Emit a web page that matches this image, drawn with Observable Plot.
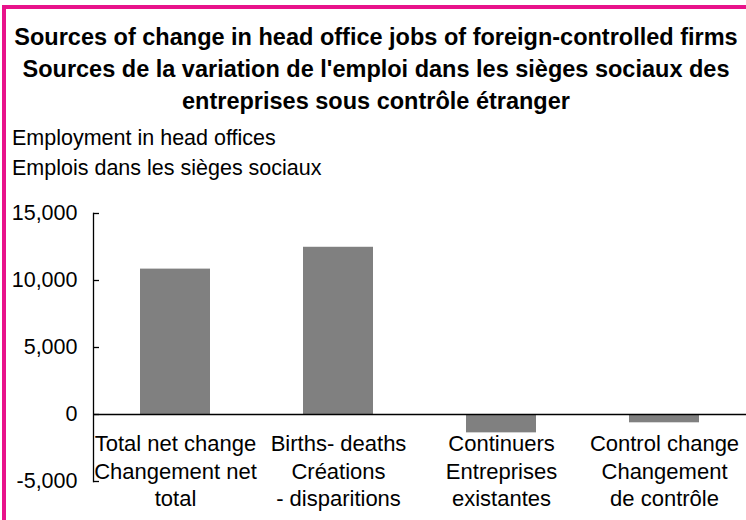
<!DOCTYPE html>
<html>
<head>
<meta charset="utf-8">
<script src="https://cdn.jsdelivr.net/npm/d3@7"></script>
<script src="https://cdn.jsdelivr.net/npm/@observablehq/plot@0.6"></script>
<style>
  html, body { margin: 0; padding: 0; background: #fff; }
  body { width: 746px; height: 520px; position: relative; overflow: hidden; font-family: "Liberation Sans", Arial, sans-serif; color: #000; }
  #border { position: absolute; left: 2px; top: 5px; right: -10px; bottom: -10px; border-left: 4px solid #e8128a; border-top: 4px solid #e8128a; z-index: 2; pointer-events: none; }
  #title { position: absolute; left: 6px; right: 0; top: 21px; text-align: center; font-weight: bold; font-size: 23.5px; line-height: 32px; white-space: nowrap; }
  #subtitle { position: absolute; left: 12px; top: 123px; font-size: 21.5px; line-height: 30px; white-space: nowrap; }
  #chart { position: absolute; left: 0; top: 185px; }
</style>
</head>
<body>
<div id="border"></div>
<div id="title">Sources of change in head office jobs of foreign-controlled firms<br>Sources de la variation de l'emploi dans les sièges sociaux des<br>entreprises sous contrôle étranger</div>
<div id="subtitle">Employment in head offices<br>Emplois dans les sièges sociaux</div>
<div id="chart"></div>
<script>
const categories = ["Total net change", "Births- deaths", "Continuers", "Control change"];
const categoryLabels = [
  "Total net change\nChangement net\ntotal",
  "Births- deaths\nCréations\n- disparitions",
  "Continuers\nEntreprises\nexistantes",
  "Control change\nChangement\nde contrôle"
];
const values = [10850, 12480, -1370, -620];
const yTicks = [-5000, 0, 5000, 10000, 15000];

const data = categories.map((c, i) => ({category: c, label: categoryLabels[i], value: values[i]}));
const fmt = d3.formatLocale({decimal: ".", thousands: ",", grouping: [3], currency: ["$", ""], minus: "-"}).format(",");

const W = 746, ML = 93, TICK = 6;

const chart = Plot.plot({
  width: W,
  height: 335,
  marginLeft: ML,
  marginRight: 0,
  marginTop: 28,
  marginBottom: 39,
  style: {fontFamily: "'Liberation Sans', Arial, sans-serif", fontSize: "21px", background: "transparent", color: "#000", overflow: "visible"},
  x: {type: "band", domain: categories, paddingInner: 0.57, paddingOuter: 0.285, axis: null},
  y: {domain: [-5000, 15000], axis: null, label: null},
  marks: [
    Plot.barY(data, {x: "category", y: "value", fill: "#808080"}),
    Plot.axisY({ticks: yTicks, tickFormat: fmt, tickSize: 0, tickPadding: 16, fill: "#000", fontSize: 21.5, label: null}),
    Plot.ruleY(yTicks, {stroke: "#000", strokeWidth: 1.3, insetRight: W - ML - TICK}),
    Plot.frame({anchor: "left", stroke: "#000", strokeWidth: 1.3}),
    Plot.ruleY([0], {stroke: "#000", strokeWidth: 1.5}),
    Plot.text(data, {x: "category", y: 0, text: "label", lineAnchor: "top", dy: 17, lineHeight: 1.25, fontSize: 22, fill: "#000"})
  ]
});
document.getElementById("chart").appendChild(chart);
</script>
</body>
</html>
